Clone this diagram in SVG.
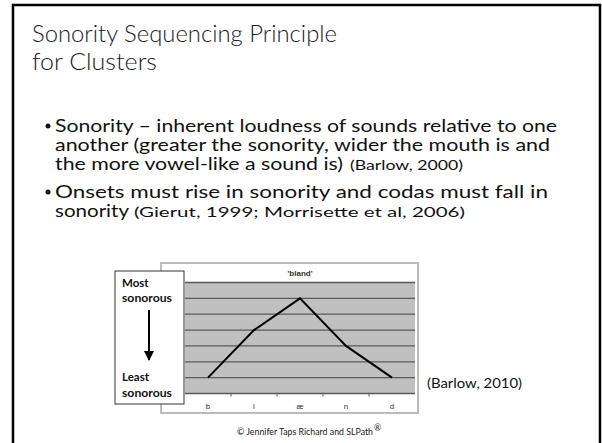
<svg xmlns="http://www.w3.org/2000/svg" width="602" height="443" viewBox="0 0 602 443">
  <style>
    .title { font-family: Lato, "Open Sans", "Liberation Sans", sans-serif; font-size: 23px; font-weight: 300; fill: #1a1a1a; }
    .body { font-family: Lato, "Open Sans", "Liberation Sans", sans-serif; font-size: 18px; fill: #111; }
    .cite { font-family: Lato, "Open Sans", "Liberation Sans", sans-serif; font-size: 14px; fill: #111; }
    .axis { font-family: "Liberation Sans", Arial, sans-serif; font-size: 8px; fill: #333; }
    .keylbl { font-family: Lato, "Open Sans", "Liberation Sans", sans-serif; font-size: 11.5px; font-weight: bold; fill: #111; }
    .grid { stroke: #5a5a5a; stroke-width: 1.3; }
    .foot { font-family: Lato, "Open Sans", "Liberation Sans", sans-serif; font-size: 8.5px; fill: #222; }
  </style>
  <defs>
    <marker id="arrowDown" viewBox="0 0 10 10" refX="9" refY="5" markerWidth="5" markerHeight="5" orient="auto" markerUnits="strokeWidth">
      <path d="M0,0 L10,5 L0,10 z" fill="#000"/>
    </marker>
  </defs>

  <rect x="0" y="0" width="602" height="443" fill="#fff"/>
  <!-- slide frame -->
  <rect x="13" y="5" width="587" height="460" fill="none" stroke="#000" stroke-width="2.5"/>

  <!-- heading -->
  <g id="title">
    <text class="title" x="32" y="42" textLength="305" lengthAdjust="spacingAndGlyphs">Sonority Sequencing Principle</text>
    <text class="title" x="32" y="70" textLength="125" lengthAdjust="spacingAndGlyphs">for Clusters</text>
  </g>

  <!-- bullet list -->
  <g id="bullets">
    <circle cx="48" cy="126" r="2.5" fill="#111"/>
    <text class="body" x="55" y="132" textLength="502" lengthAdjust="spacingAndGlyphs">Sonority – inherent loudness of sounds relative to one</text>
    <text class="body" x="55" y="151" textLength="495" lengthAdjust="spacingAndGlyphs">another (greater the sonority, wider the mouth is and</text>
    <text class="body" x="55" y="170" textLength="288" lengthAdjust="spacingAndGlyphs">the more vowel-like a sound is)</text>
    <text class="cite" x="350" y="170" textLength="113" lengthAdjust="spacingAndGlyphs">(Barlow, 2000)</text>
    <circle cx="48" cy="192" r="2.5" fill="#111"/>
    <text class="body" x="55" y="198" textLength="493" lengthAdjust="spacingAndGlyphs">Onsets must rise in sonority and codas must fall in</text>
    <text class="body" x="55" y="217" textLength="74" lengthAdjust="spacingAndGlyphs">sonority</text>
    <text class="cite" x="134" y="217" textLength="331" lengthAdjust="spacingAndGlyphs">(Gierut, 1999; Morrisette et al, 2006)</text>
  </g>

  <!-- sonority chart -->
  <g id="chart">
    <rect x="161" y="263" width="257" height="150" fill="#fff" stroke="#a6a6a6" stroke-width="1.5"/>
    <text class="axis" x="300" y="276" text-anchor="middle" font-weight="bold">'bland'</text>
    <rect x="185" y="282.5" width="230" height="111" fill="#c0c0c0"/>
    <g class="grid">
      <line x1="185" y1="282.5" x2="415" y2="282.5"/>
      <line x1="185" y1="298.4" x2="415" y2="298.4"/>
      <line x1="185" y1="314.2" x2="415" y2="314.2"/>
      <line x1="185" y1="330.1" x2="415" y2="330.1"/>
      <line x1="185" y1="345.9" x2="415" y2="345.9"/>
      <line x1="185" y1="361.8" x2="415" y2="361.8"/>
      <line x1="185" y1="377.6" x2="415" y2="377.6"/>
      <line x1="185" y1="393.5" x2="415" y2="393.5"/>
    </g>
    <g stroke="#5a5a5a" stroke-width="1">
      <line x1="231" y1="393.5" x2="231" y2="396.5"/>
      <line x1="277" y1="393.5" x2="277" y2="396.5"/>
      <line x1="323" y1="393.5" x2="323" y2="396.5"/>
      <line x1="369" y1="393.5" x2="369" y2="396.5"/>
    </g>
    <polyline points="208,377.6 254,330.1 300,298.4 346,345.9 392,377.6" fill="none" stroke="#000" stroke-width="2" stroke-linejoin="miter"/>
    <text class="axis" x="208" y="409" text-anchor="middle">b</text>
    <text class="axis" x="254" y="409" text-anchor="middle">l</text>
    <text class="axis" x="300" y="409" text-anchor="middle">æ</text>
    <text class="axis" x="346" y="409" text-anchor="middle">n</text>
    <text class="axis" x="392" y="409" text-anchor="middle">d</text>
  </g>

  <!-- sonority key box -->
  <g id="key">
    <rect x="115" y="271" width="69" height="133" fill="#fff" stroke="#333" stroke-width="1"/>
    <text class="keylbl" x="122" y="287">Most</text>
    <text class="keylbl" x="122" y="302" textLength="50" lengthAdjust="spacingAndGlyphs">sonorous</text>
    <line x1="149" y1="310" x2="149" y2="360" stroke="#000" stroke-width="2" marker-end="url(#arrowDown)"/>
    <text class="keylbl" x="122" y="381">Least</text>
    <text class="keylbl" x="122" y="397" textLength="50" lengthAdjust="spacingAndGlyphs">sonorous</text>
  </g>

  <g id="source">
    <text class="cite" x="427" y="388" textLength="95" lengthAdjust="spacingAndGlyphs">(Barlow, 2010)</text>
  </g>

  <g id="footer">
    <text class="foot" x="237" y="435" textLength="136" lengthAdjust="spacingAndGlyphs">© Jennifer Taps Richard and SLPath</text>
    <text class="foot" x="374" y="431" font-size="4">®</text>
  </g>
</svg>
